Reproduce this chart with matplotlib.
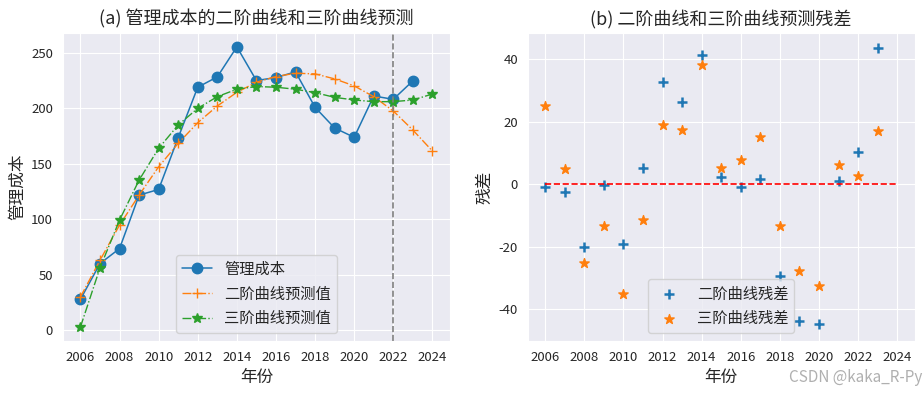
import numpy as np
import matplotlib
matplotlib.use("Agg")
import matplotlib.pyplot as plt
import seaborn as sns

sns.set_style("darkgrid")
plt.rcParams['font.family'] = ['Noto Sans CJK SC', 'DejaVu Sans']
plt.rcParams['axes.unicode_minus'] = False

# data
years = np.arange(2006, 2024)
years_pred = np.arange(2006, 2025)
cost = [27.9, 60.1, 73.6, 121.7, 126.8, 173.4, 218.8, 228.1, 255.1,
        224.8, 227.5, 232.6, 200.7, 182.1, 173.7, 210.9, 207.9, 224.5]
pred2 = [30.0, 63.1, 94.7, 121.7, 147.2, 168.3, 186.9, 201.9, 214.2, 223.3,
         228.4, 231.4, 230.8, 226.3, 220.0, 210.3, 197.4, 180.3, 161.4]
pred3 = [3.0, 56.2, 99.2, 135.2, 163.8, 184.8, 199.8, 210.3, 217.0, 219.4,
         218.8, 217.0, 213.9, 209.7, 207.3, 205.8, 205.8, 207.3, 212.7]
resid2 = [-1.0, -2.6, -20.0, -0.2, -19.0, 5.1, 32.8, 26.5, 41.5,
          2.2, -1.0, 1.7, -29.2, -43.8, -44.8, 1.2, 10.3, 43.6]
resid3 = [25.1, 4.9, -25.3, -13.2, -35.2, -11.5, 19.1, 17.5, 38.1,
          5.3, 7.7, 15.3, -13.2, -27.6, -32.4, 6.1, 2.6, 17.2]
xticks = np.arange(2006, 2025, 2)

fig = plt.figure(figsize=(9.24, 3.94), dpi=100)
ax1 = fig.add_axes([0.068, 0.135, 0.419, 0.781])
ax2 = fig.add_axes([0.571, 0.135, 0.419, 0.781])

# (a)
ax1.plot(years, cost, 'o-', color='C0', markersize=7.5, linewidth=1.1, label='管理成本')
ax1.plot(years_pred, pred2, '+-.', color='C1', markersize=7, linewidth=1.0, label='二阶曲线预测值')
ax1.plot(years_pred, pred3, '*-.', color='C2', markersize=7, linewidth=1.0, label='三阶曲线预测值')
ax1.axvline(2022, color='gray', linestyle='--', linewidth=1.2)
ax1.set_xticks(xticks)
ax1.set_ylim(-9.4, 267.5)
ax1.set_xlabel('年份', fontsize=12)
ax1.set_ylabel('管理成本', fontsize=12)
ax1.set_title('(a) 管理成本的二阶曲线和三阶曲线预测', fontsize=13)
ax1.tick_params(labelsize=9.5)
ax1.legend(loc='lower center', fontsize=11)

# (b)
ax2.scatter(years, resid2, marker='+', color='C0', s=45, linewidths=1.8, label='二阶曲线残差')
ax2.scatter(years, resid3, marker='*', color='C1', s=50, label='三阶曲线残差')
ax2.hlines(0, 2006, 2024, colors='red', linestyles='--', linewidth=1.2)
ax2.set_xticks(xticks)
ax2.set_ylim(-50.1, 48.4)
ax2.set_xlabel('年份', fontsize=12)
ax2.set_ylabel('残差', fontsize=12)
ax2.set_title('(b) 二阶曲线和三阶曲线预测残差', fontsize=13)
ax2.tick_params(labelsize=9.5)
ax2.legend(loc='lower center', fontsize=11)

fig.text(0.998, 0.02, 'CSDN @kaka_R-Py', ha='right', va='bottom',
         fontsize=11, color='#b0b0b0')

fig.savefig('out.png', dpi=100)
